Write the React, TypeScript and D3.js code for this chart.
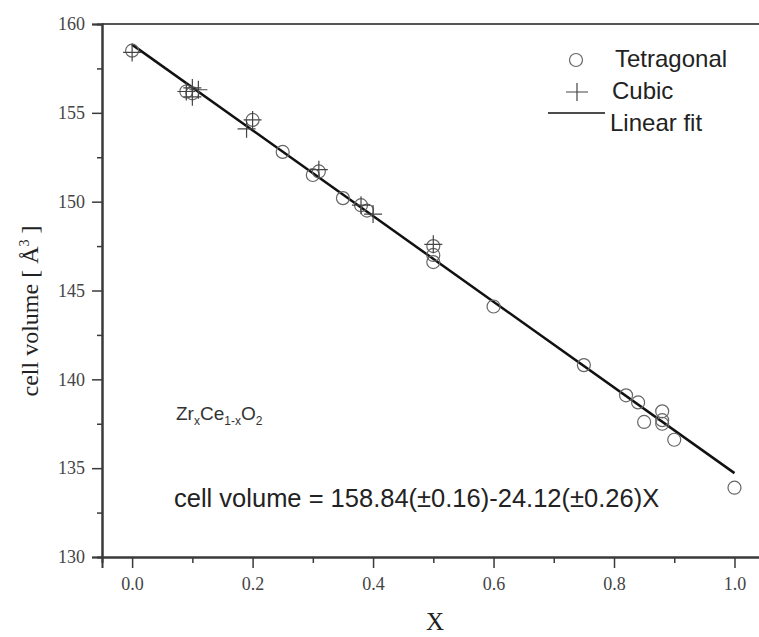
import React, { useEffect, useRef } from "react";
import * as d3 from "d3";

const tetragonalX = [0, 0.09, 0.1, 0.2, 0.25, 0.3, 0.31, 0.35, 0.38, 0.39, 0.5, 0.5, 0.5, 0.6, 0.75, 0.82, 0.84, 0.85, 0.88, 0.88, 0.88, 0.9, 1.0];
const tetragonalY = [158.5, 156.2, 156.1, 154.6, 152.8, 151.5, 151.7, 150.2, 149.8, 149.5, 147.5, 147.0, 146.6, 144.1, 140.8, 139.1, 138.7, 137.6, 138.2, 137.7, 137.5, 136.6, 133.9];
const cubicX = [0, 0.09, 0.1, 0.11, 0.1, 0.19, 0.2, 0.31, 0.38, 0.4, 0.5];
const cubicY = [158.4, 156.2, 156.4, 156.3, 155.9, 154.1, 154.6, 151.8, 149.8, 149.3, 147.6];
const fitIntercept = 158.84;
const fitSlope = -24.12;
const fitRange = [0, 1];
const xTicks = [0, 0.2, 0.4, 0.6, 0.8, 1.0];
const yTicks = [130, 135, 140, 145, 150, 155, 160];

export default function App() {
  const ref = useRef<SVGSVGElement>(null);
  useEffect(() => {
    const svg = d3.select(ref.current);
    svg.selectAll("*").remove();
    const W = 759;
    const left = 102, top = 24, bottom = 557, right = 764.6;
    const x = d3.scaleLinear().domain([-0.05, 1.05]).range([left, right]);
    const y = d3.scaleLinear().domain([130, 160]).range([bottom, top]);
    const axisColor = "#3a3a3a";
    const labelColor = "#444";
    const serif = "'Liberation Serif', 'Times New Roman', serif";

    // top frame
    svg.append("line").attr("x1", left).attr("x2", W).attr("y1", top).attr("y2", top)
      .attr("stroke", "#555").attr("stroke-width", 2);

    // y axis
    const yMinor = d3.range(132.5, 160, 5);
    const gy = svg.append("g").attr("transform", `translate(${left},0)`);
    gy.call(d3.axisLeft(y).tickValues(yMinor).tickSize(5).tickFormat(() => ""));
    const gy2 = svg.append("g").attr("transform", `translate(${left},0)`);
    gy2.call(d3.axisLeft(y).tickValues(yTicks).tickSize(10).tickPadding(7).tickFormat(d3.format("d")));
    [gy, gy2].forEach((g) => {
      g.select(".domain").attr("stroke", axisColor).attr("stroke-width", 2);
      g.selectAll(".tick line").attr("stroke", axisColor).attr("stroke-width", 1.5);
      g.selectAll(".tick text").attr("font-family", serif).attr("font-size", 18).attr("fill", labelColor);
    });

    // x axis
    const xMinor = [0.1, 0.3, 0.5, 0.7, 0.9];
    const gx = svg.append("g").attr("transform", `translate(0,${bottom})`);
    gx.call(d3.axisBottom(x).tickValues(xMinor).tickSize(6).tickFormat(() => ""));
    const gx2 = svg.append("g").attr("transform", `translate(0,${bottom})`);
    gx2.call(d3.axisBottom(x).tickValues(xTicks).tickSize(11).tickPadding(9).tickFormat(d3.format(".1f")));
    [gx, gx2].forEach((g) => {
      g.select(".domain").attr("stroke", axisColor).attr("stroke-width", 2);
      g.selectAll(".tick line").attr("stroke", axisColor).attr("stroke-width", 1.5);
      g.selectAll(".tick text").attr("font-family", serif).attr("font-size", 18).attr("fill", labelColor);
    });

    // axis titles
    svg.append("text").attr("transform", `translate(38,311) rotate(-90)`)
      .attr("text-anchor", "middle").attr("font-family", serif)
      .attr("font-size", 24).attr("fill", "#222")
      .call((t) => {
        t.append("tspan").text("cell volume [ Å");
        t.append("tspan").attr("dy", -9).attr("font-size", 14).text("3");
        t.append("tspan").attr("dy", 9).text(" ]");
      });
    svg.append("text").attr("x", 435).attr("y", 630).attr("text-anchor", "middle")
      .attr("font-family", serif).attr("font-size", 25)
      .attr("fill", "#222").text("X");

    // fit line
    svg.append("line")
      .attr("x1", x(fitRange[0])).attr("y1", y(fitIntercept + fitSlope * fitRange[0]))
      .attr("x2", x(fitRange[1])).attr("y2", y(fitIntercept + fitSlope * fitRange[1]))
      .attr("stroke", "#111").attr("stroke-width", 2.5);

    // tetragonal circles
    svg.append("g").selectAll("circle").data(tetragonalX).join("circle")
      .attr("cx", (d) => x(d)).attr("cy", (_, i) => y(tetragonalY[i])).attr("r", 6.5)
      .attr("fill", "none").attr("stroke", "#666").attr("stroke-width", 1.2);

    // cubic pluses
    const arm = 9;
    svg.append("g").selectAll("path").data(cubicX).join("path")
      .attr("d", (d, i) => {
        const cx = x(d), cy = y(cubicY[i]);
        return `M${cx - arm},${cy}H${cx + arm}M${cx},${cy - arm}V${cy + arm}`;
      })
      .attr("stroke", "#444").attr("stroke-width", 1.2).attr("fill", "none");

    // legend
    const lf = "'Liberation Sans', Arial, sans-serif";
    svg.append("circle").attr("cx", 576).attr("cy", 60).attr("r", 6.5)
      .attr("fill", "none").attr("stroke", "#666").attr("stroke-width", 1.2);
    svg.append("text").attr("x", 615).attr("y", 67).attr("font-family", lf).attr("font-size", 24)
      .attr("fill", "#222").text("Tetragonal");
    svg.append("path").attr("d", `M566,92H588M577,83V101`).attr("stroke", "#444").attr("stroke-width", 1.2);
    svg.append("text").attr("x", 612).attr("y", 99).attr("font-family", lf).attr("font-size", 24)
      .attr("fill", "#222").text("Cubic");
    svg.append("line").attr("x1", 548).attr("x2", 605).attr("y1", 113).attr("y2", 113)
      .attr("stroke", "#111").attr("stroke-width", 1.5);
    svg.append("text").attr("x", 610).attr("y", 131).attr("font-family", lf).attr("font-size", 24)
      .attr("fill", "#222").text("Linear fit");

    // formula label
    svg.append("text").attr("x", 176).attr("y", 420).attr("font-family", lf).attr("font-size", 19)
      .attr("fill", "#333")
      .call((t) => {
        t.append("tspan").text("Zr");
        t.append("tspan").attr("dy", 5).attr("font-size", 12).text("x");
        t.append("tspan").attr("dy", -5).text("Ce");
        t.append("tspan").attr("dy", 5).attr("font-size", 12).text("1-x");
        t.append("tspan").attr("dy", -5).text("O");
        t.append("tspan").attr("dy", 5).attr("font-size", 12).text("2");
      });

    // equation
    svg.append("text").attr("x", 174).attr("y", 507).attr("font-family", lf).attr("font-size", 25.5)
      .attr("fill", "#222").text("cell volume = 158.84(±0.16)-24.12(±0.26)X");
  }, []);
  return (
    <svg ref={ref} width={759} height={637}
      style={{ position: "absolute", left: 0, top: 0, background: "#fff", display: "block" }} />
  );
}
